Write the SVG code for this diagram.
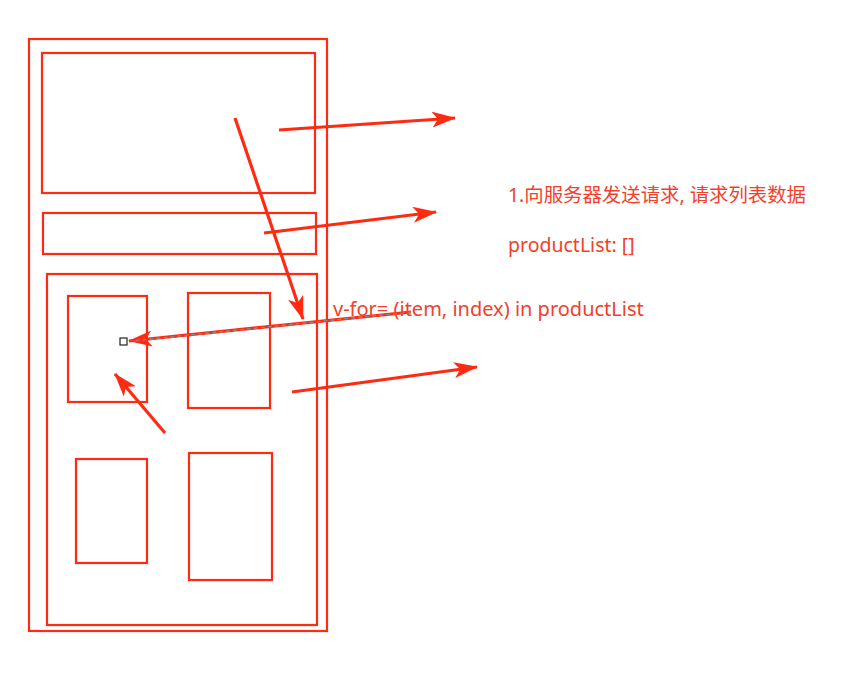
<svg xmlns="http://www.w3.org/2000/svg" width="847" height="675" viewBox="0 0 847 675">
<style>
.box{fill:none;stroke:#ff2a12;stroke-width:2.2}
.arr{fill:none;stroke:#ff2a12;stroke-width:3.2;stroke-linecap:butt}
.lbl{fill:#f2402c;font-family:"Noto Sans","Noto Sans CJK SC",sans-serif;font-size:19.5px}
</style>
<defs>
<marker id="ah" viewBox="0 0 24 16" refX="23" refY="8" markerWidth="24" markerHeight="16" markerUnits="userSpaceOnUse" orient="auto">
<path d="M0,0 L24,8 L0,16 L6,8 Z" fill="#ff2a12"/>
</marker>
</defs>
<rect width="847" height="675" fill="#ffffff"/>
<g id="phone"><rect class="box" x="29" y="39" width="298" height="592"/></g>
<g id="banner"><rect class="box" x="42" y="53" width="273" height="140"/></g>
<g id="nav"><rect class="box" x="43" y="213" width="273" height="41"/></g>
<g id="content"><rect class="box" x="47" y="274" width="270" height="351"/></g>
<g id="item1"><rect class="box" x="68" y="296" width="79" height="106"/></g>
<g id="item2"><rect class="box" x="188" y="293" width="82" height="115"/></g>
<g id="item3"><rect class="box" x="76" y="459" width="71" height="104"/></g>
<g id="item4"><rect class="box" x="189" y="453" width="83" height="127"/></g>
<g id="connectors">
<line class="arr" x1="279" y1="130" x2="455" y2="118" marker-end="url(#ah)"/>
<line class="arr" x1="264" y1="233" x2="436" y2="212" marker-end="url(#ah)"/>
<line class="arr" x1="292" y1="392" x2="477" y2="367" marker-end="url(#ah)"/>
<line class="arr" x1="235" y1="118" x2="303" y2="319" marker-end="url(#ah)"/>
<line class="arr" x1="411" y1="312" x2="129" y2="341" marker-end="url(#ah)"/>
<line x1="411" y1="312" x2="132" y2="341" stroke="#8a8a8a" stroke-width="1.4" stroke-dasharray="4 3"/>
<line class="arr" x1="165" y1="433" x2="115" y2="374" marker-end="url(#ah)"/>
<rect x="120" y="338" width="7" height="7" fill="#ffffff" stroke="#222222" stroke-width="1.2"/>
</g>
<g id="labels">
<text class="lbl" x="508" y="202" style="font-size:19.4px">1.向服务器发送请求, 请求列表数据</text>
<text class="lbl" x="508" y="252">productList: []</text>
<text class="lbl" x="333" y="316" style="font-size:20px">v-for= (item, index) in productList</text>
</g>
</svg>
